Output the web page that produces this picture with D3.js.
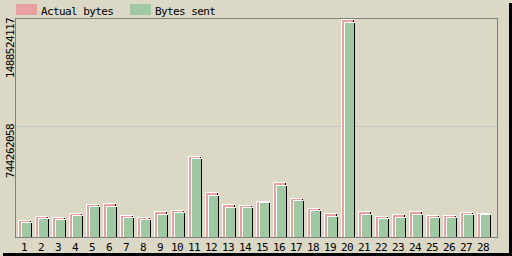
<!DOCTYPE html>
<html>
<head>
<meta charset="utf-8">
<script src="https://cdn.jsdelivr.net/npm/d3@7"></script>
<style>
  html, body { margin: 0; padding: 0; background: #dbd8c6; }
  svg { display: block; }
  text { font-family: "DejaVu Sans Mono", monospace; font-size: 11px; letter-spacing: -0.6px; fill: #000; }
</style>
</head>
<body>
<div id="grafica"></div>
<script>
// datos
const dias = d3.range(1, 29).map(String);
const actualBytes = [115.5e6, 142.7e6, 135.9e6, 163.1e6, 224.3e6, 231.1e6, 149.5e6, 135.9e6, 176.7e6, 183.5e6,
  550.5e6, 305.9e6, 224.3e6, 217.5e6, 244.7e6, 373.8e6, 265.1e6, 197.1e6, 163.1e6, 1481.7e6,
  176.7e6, 142.7e6, 156.3e6, 176.7e6, 149.5e6, 149.5e6, 169.9e6, 163.1e6];
const bytesSent = [102.0e6, 129.1e6, 122.3e6, 149.5e6, 210.7e6, 210.7e6, 135.9e6, 122.3e6, 156.3e6, 169.9e6,
  537.0e6, 285.5e6, 203.9e6, 203.9e6, 237.9e6, 353.4e6, 251.5e6, 183.5e6, 142.7e6, 1461.3e6,
  156.3e6, 129.1e6, 135.9e6, 156.3e6, 135.9e6, 135.9e6, 156.3e6, 156.3e6];
const maxEje = 1488524117;
const ticksY = [744262058, 1488524117];
const series = ["Actual bytes", "Bytes sent"];
const colores = ["#e8a0a0", "#a0c8a2"];

const W = 512, H = 256;
const svg = d3.select("#grafica").append("svg")
  .attr("width", W).attr("height", H)
  .attr("shape-rendering", "crispEdges");

// sombra y fondo
svg.append("rect").attr("x", 3).attr("y", 3).attr("width", W - 3).attr("height", H - 3).attr("fill", "#000");
svg.append("rect").attr("x", 0).attr("y", 0).attr("width", W - 3).attr("height", H - 3).attr("fill", "#dbd8c6");

const x = d3.scaleBand().domain(dias).range([15, 491]);
const y = d3.scaleLinear().domain([0, maxEje]).range([237, 18]);

// linea guia
svg.selectAll(".guia").data(ticksY.filter(t => t < maxEje)).enter()
  .append("line")
  .attr("x1", 16).attr("x2", 497)
  .attr("y1", d => Math.floor(y(d)) - 0.5).attr("y2", d => Math.floor(y(d)) - 0.5)
  .attr("stroke", "#c4c4c4");

// barras: atras "Actual bytes", adelante "Bytes sent"
const barra = (valores, dx, ancho, color) => {
  const g = svg.append("g");
  const grupos = g.selectAll("g").data(dias).enter().append("g");
  const top = (d, i) => Math.round(y(valores[i]));
  grupos.append("rect")
    .attr("x", d => x(d) + dx).attr("y", top)
    .attr("width", ancho + 2).attr("height", (d, i) => 237 - top(d, i))
    .attr("fill", "#fff");
  grupos.append("rect")
    .attr("x", d => x(d) + dx + 1).attr("y", (d, i) => top(d, i) + 1)
    .attr("width", ancho + 1).attr("height", (d, i) => 236 - top(d, i))
    .attr("fill", "#000");
  grupos.append("rect")
    .attr("x", d => x(d) + dx + 1).attr("y", (d, i) => top(d, i) + 1)
    .attr("width", ancho).attr("height", (d, i) => 236 - top(d, i))
    .attr("fill", color);
};
barra(actualBytes, 3, 11, colores[0]);
barra(bytesSent, 6, 9, colores[1]);

// marco
svg.append("rect")
  .attr("x", 15.5).attr("y", 18.5).attr("width", 482).attr("height", 219)
  .attr("fill", "none").attr("stroke", "#808080");

// etiquetas eje x
svg.selectAll(".dia").data(dias).enter()
  .append("text")
  .attr("x", d => x(d) + x.bandwidth() / 2 + 0.5)
  .attr("y", 251)
  .attr("text-anchor", "middle")
  .text(d => d);

// etiquetas eje y (rotadas)
svg.selectAll(".valor").data(ticksY).enter()
  .append("text")
  .attr("transform", d => "translate(14," + (Math.floor(y(d)) - 3 * (d < maxEje)) + ") rotate(-90)")
  .attr("text-anchor", "end")
  .text(d => d);

// leyenda
const leyenda = svg.selectAll(".ley").data(series).enter().append("g")
  .attr("transform", (d, i) => "translate(" + [16, 130][i] + ",4)");
leyenda.append("rect").attr("width", 21).attr("height", 11).attr("fill", (d, i) => colores[i]);
leyenda.append("text").attr("x", 25).attr("y", 11).text(d => d);
</script>
</body>
</html>
